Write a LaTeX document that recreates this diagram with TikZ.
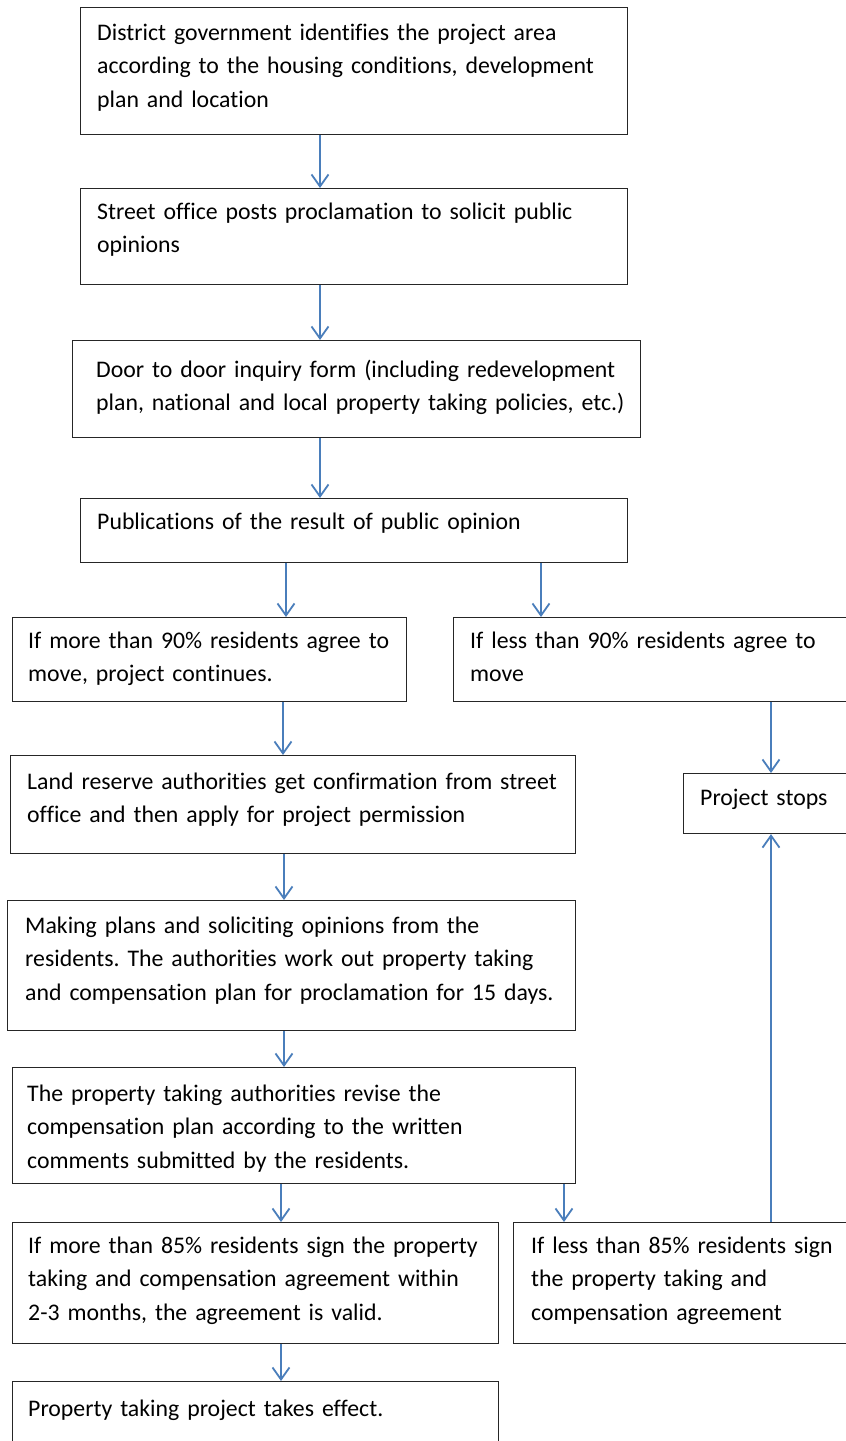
\documentclass[tikz,border=0pt]{standalone}
\usepackage{fontspec}
\setmainfont{Carlito}[Ligatures=NoCommon]
\usetikzlibrary{arrows.meta}
\definecolor{arrowblue}{RGB}{74,126,187}
\newcommand\flowbox[8]{%
  \node[boxnode, minimum width={(#4-#2)*1pt}, minimum height={(#5-#3)*1pt}] (#1) at (#2,#3) {};
  \node[txtnode] (#1t) at (#6,#7) {#8};
}
\begin{document}
\frenchspacing
\begin{tikzpicture}[x=1pt,y=-1pt,
  boxnode/.style={draw=black!85, line width=1.1pt, anchor=north west, inner sep=0pt},
  txtnode/.style={anchor=base west, inner sep=0pt, text width=620pt, align=left,
    font=\fontsize{23.8}{33.8}\selectfont},
  flow/.style={draw=arrowblue, line width=1.8pt, -{Straight Barb[length=12pt,width=17pt]}}]
\fill[white] (0,0) rectangle (846,1441);
\useasboundingbox (0,0) rectangle (846,1441);

\flowbox{b1}{80}{7}{627}{134}{97}{40}{District government identifies the project area\\according to the housing conditions, development\\plan and location}
\flowbox{b2}{80}{188}{627}{284}{97}{219}{Street office posts proclamation to solicit public\\opinions}
\flowbox{b3}{72}{340}{640}{437}{96}{377}{Door to door inquiry form (including redevelopment\\plan, national and local property taking policies, etc.)}
\flowbox{b4}{80}{498}{627}{562}{97}{529}{Publications of the result of public opinion}
\flowbox{b5}{12}{617}{406}{701}{28}{648}{If more than 90\% residents agree to\\move, project continues.}
\flowbox{b6}{453}{617}{850}{701}{470}{648}{If less than 90\% residents agree to\\move}
\flowbox{b7}{10}{755}{575}{853}{27}{789}{Land reserve authorities get confirmation from street\\office and then apply for project permission}
\flowbox{stop}{683}{773}{850}{833}{700}{805}{Project stops}
\flowbox{b8}{7}{900}{575}{1030}{25}{933}{Making plans and soliciting opinions from the\\residents. The authorities work out property taking\\and compensation plan for proclamation for 15 days.}
\flowbox{b9}{12}{1067}{575}{1183}{27}{1101}{The property taking authorities revise the\\compensation plan according to the written\\comments submitted by the residents.}
\flowbox{b10}{12}{1222}{498}{1343}{28}{1253}{If more than 85\% residents sign the property\\taking and compensation agreement within\\2-3 months, the agreement is valid.}
\flowbox{b11}{513}{1222}{850}{1343}{531}{1253}{If less than 85\% residents sign\\the property taking and\\compensation agreement}
\flowbox{b12}{12}{1381}{498}{1460}{28}{1416}{Property taking project takes effect.}

\draw[flow] (320,0 |- b1.south) -- (320,0 |- b2.north);
\draw[flow] (320,0 |- b2.south) -- (320,0 |- b3.north);
\draw[flow] (320,0 |- b3.south) -- (320,0 |- b4.north);
\draw[flow] (286,0 |- b4.south) -- (286,0 |- b5.north);
\draw[flow] (541,0 |- b4.south) -- (541,0 |- b6.north);
\draw[flow] (283,0 |- b5.south) -- (283,0 |- b7.north);
\draw[flow] (771,0 |- b6.south) -- (771,0 |- stop.north);
\draw[flow] (284,0 |- b7.south) -- (284,0 |- b8.north);
\draw[flow] (284,0 |- b8.south) -- (284,0 |- b9.north);
\draw[flow] (281,0 |- b9.south) -- (281,0 |- b10.north);
\draw[flow] (564,0 |- b9.south) -- (564,0 |- b11.north);
\draw[flow] (771,0 |- b11.north) -- (771,0 |- stop.south);
\draw[flow] (281,0 |- b10.south) -- (281,0 |- b12.north);
\end{tikzpicture}
\end{document}
